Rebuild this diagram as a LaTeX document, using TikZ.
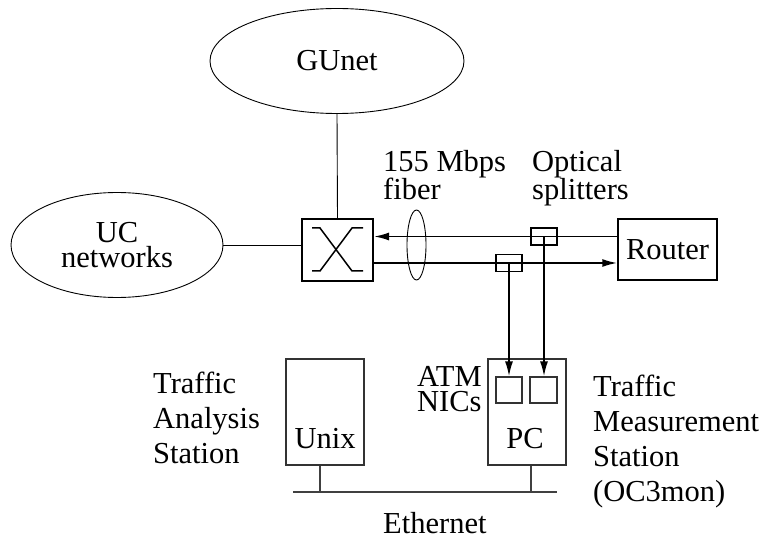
\documentclass[tikz,border=0pt]{standalone}
\usepackage{fontspec}
\setmainfont{Liberation Serif}
\usepackage{tikz}
\usetikzlibrary{shapes.geometric,arrows.meta,calc}
\tikzstyle{arrow} = [draw, line width=1.8pt, -{Latex[length=15pt,width=8pt]}]
\tikzstyle{line} = [draw, line width=0.9pt]
\tikzstyle{lan} = [draw, line width=1.2pt, black!75]
\tikzstyle{cloud} = [draw, ellipse, line width=0.9pt, inner sep=0pt]
\tikzstyle{box} = [draw, rectangle, line width=1.5pt, inner sep=0pt]
\tikzstyle{host} = [draw, rectangle, line width=1.2pt, black!80, text=black, inner sep=0pt]
\tikzstyle{label} = [anchor=base west, align=left, inner sep=0pt]

\begin{document}
\begin{tikzpicture}[x=1pt, y=-1pt, font=\fontsize{30.5}{35}\selectfont]
      \useasboundingbox (0,0) rectangle (766,540);

      % networks
      \node[cloud, minimum width=254, minimum height=105] (gunet) at (337,61) {GUnet};
      \node[cloud, minimum width=212, minimum height=105, align=center,
            font=\fontsize{30.5}{25.5}\selectfont] (ucnet) at (117,245) {UC\\networks};

      % ATM switch
      \node[box, line width=2pt, minimum width=71, minimum height=62] (switch) at (337.5,250) {};
      \draw[line width=1.5pt] (312,228) -- (320,228) -- (352,271) -- (363,271);
      \draw[line width=1.5pt] (363,228) -- (352,228) -- (320,271) -- (312,271);

      \node[box, minimum width=99, minimum height=61] (router) at (667.5,249.5) {Router};

      % optical splitters
      \node[box, line width=1.1pt, minimum width=26, minimum height=17] (splitA) at (544,236.5) {};
      \node[box, line width=1.1pt, minimum width=26, minimum height=17] (splitB) at (509,263) {};

      % fiber link
      \draw[line width=0.9pt] (416.5,245) ellipse (9.5 and 35);
      \draw[arrow] (router.west |- splitA) -- (switch.east |- splitA);
      \draw[arrow] (switch.east |- splitB) -- (router.west |- splitB);

      \draw[line] (gunet.south) -- (switch.north);
      \draw[line] (ucnet.east) -- (ucnet.east -| switch.west);

      % measurement hosts
      \node[host, minimum width=78, minimum height=106] (pc) at (527,412) {};
      \node[anchor=base] at (525,448) {PC};
      \node[host, minimum width=26, minimum height=26] (nicA) at (509,390) {};
      \node[host, minimum width=27, minimum height=26] (nicB) at (543.5,390) {};
      \node[host, minimum width=78, minimum height=106] (unix) at (325,412) {};
      \node[anchor=base] at (325,448) {Unix};

      \draw[arrow] (splitB.center) -- (splitB |- nicA.north);
      \draw[arrow] (splitA.center) -- (splitA |- nicB.north);

      % ethernet
      \coordinate (ethL) at (293,492);
      \coordinate (ethR) at (557,492);
      \draw[lan] (ethL) -- (ethR);
      \draw[lan] ([xshift=-5]unix.south) -- ([xshift=-5]unix.south |- ethL);
      \draw[lan] ([xshift=4]pc.south) -- ([xshift=4]pc.south |- ethL);

      % labels (anchored on the baseline of their last line)
      \node[label, font=\fontsize{30.5}{25}\selectfont] at (383,200) {155 Mbps\\fiber};
      \node[label, font=\fontsize{30.5}{25}\selectfont] at (532,200) {Optical\\splitters};
      \node[label, font=\fontsize{30.5}{25}\selectfont] at (417,411) {ATM\\NICs};
      \node[label] at (153,463) {Traffic\\Analysis\\Station};
      \node[label] at (593,501) {Traffic\\Measurement\\Station\\(OC3mon)};
      \node[anchor=base west, inner sep=0pt] at (383,533) {Ethernet};
    \end{tikzpicture}
\end{document}
